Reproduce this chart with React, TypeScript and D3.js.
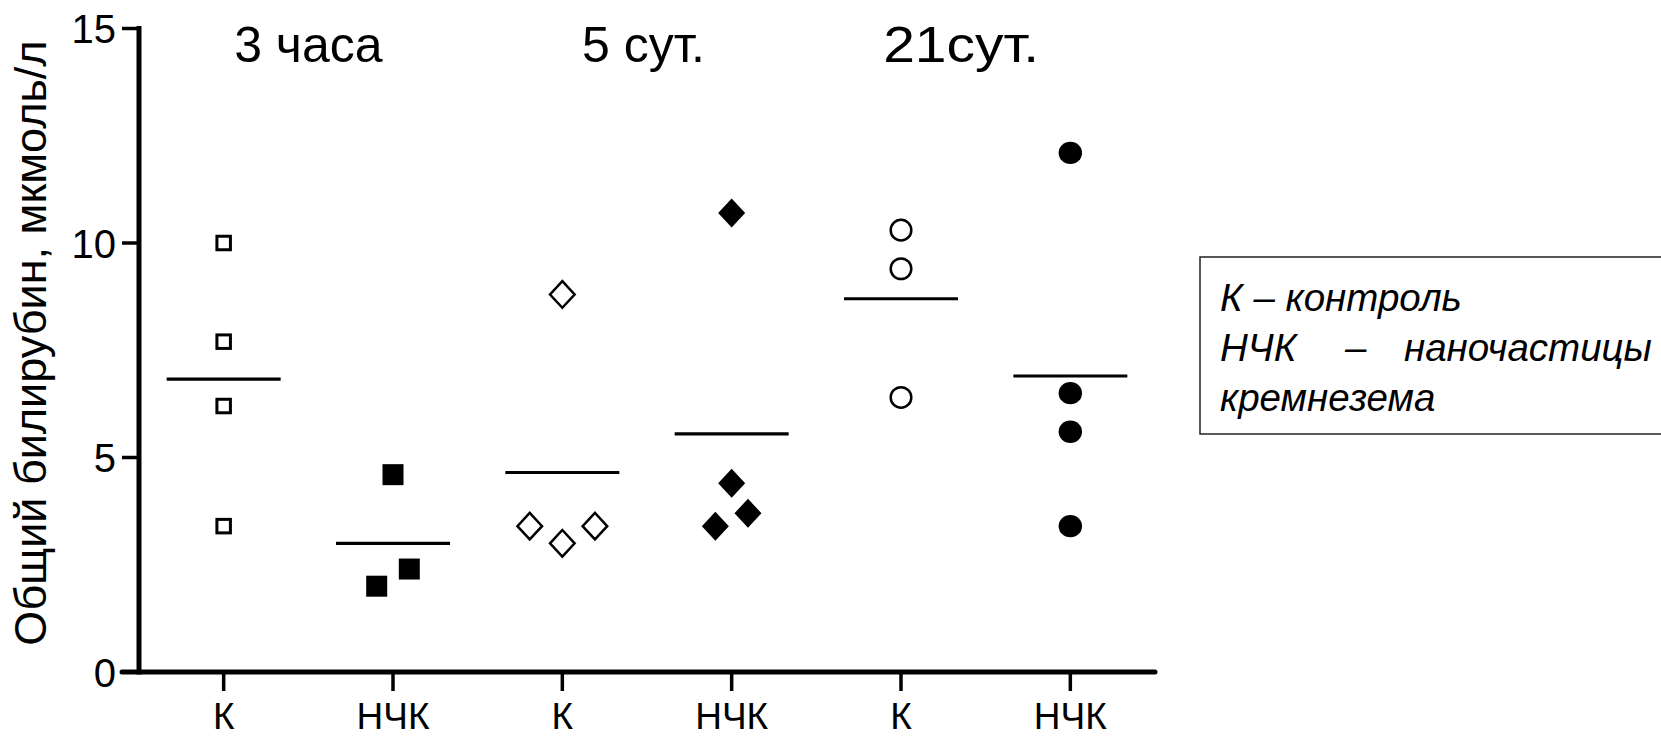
import React from "react";
import * as d3 from "d3";

// ---- data ----
const groupLabels = ["К", "НЧК", "К", "НЧК", "К", "НЧК"];
const periodLabels = ["3 часа", "5 сут.", "21сут."];
const yTicks = [0, 5, 10, 15];

const k3h = [10.0, 7.7, 6.2, 3.4];
const nck3h = [4.6, 2.0, 2.4];
const k5d = [8.8, 3.4, 3.0, 3.4];
const nck5d = [10.7, 4.4, 3.7, 3.4];
const k21d = [10.3, 9.4, 6.4];
const nck21d = [12.1, 6.5, 5.6, 3.4];

// horizontal slot of each point (to avoid overlap), in half-marker units
const k3hSlot = [0, 0, 0, 0];
const nck3hSlot = [0, -1, 1];
const k5dSlot = [0, -2, 0, 2];
const nck5dSlot = [0, 0, 1, -1];
const k21dSlot = [0, 0, 0];
const nck21dSlot = [0, 0, 0, 0];

const seriesValues = [k3h, nck3h, k5d, nck5d, k21d, nck21d];
const seriesSlots = [k3hSlot, nck3hSlot, k5dSlot, nck5dSlot, k21dSlot, nck21dSlot];
const seriesShapes = ["square", "square", "diamond", "diamond", "circle", "circle"];
const seriesFilled = [false, true, false, true, false, true];

const legendLines = ["К – контроль", "кремнезема"];

// ---- layout ----
const W = 1661;
const H = 737;
const axisX = 139;
const axisRight = 1155;
const FONT = "'Liberation Sans', Arial, Helvetica, sans-serif";

export default function App() {
  const x = d3
    .scalePoint<number>()
    .domain(d3.range(groupLabels.length))
    .range([axisX, axisRight])
    .padding(0.5);
  const y = d3.scaleLinear().domain([0, 15]).range([672, 28.5]);
  const slotUnit = 16.3;
  const titleShift = [0, -3.5, -24.5];
  const titleLength: (number | undefined)[] = [undefined, undefined, 156];

  const marker = (shape: string, filled: boolean, cx: number, cy: number, key: string) => {
    const fill = filled ? "#000" : "#fff";
    if (shape === "square") {
      const s = filled ? 21 : 13.5;
      return (
        <rect
          key={key}
          x={cx - s / 2}
          y={cy - s / 2}
          width={s}
          height={s}
          fill={fill}
          stroke="#000"
          strokeWidth={filled ? 0 : 3}
        />
      );
    }
    if (shape === "diamond") {
      const hw = filled ? 13.5 : 12.3;
      const hh = filled ? 14.5 : 13.3;
      const p = d3.path();
      p.moveTo(cx, cy - hh);
      p.lineTo(cx + hw, cy);
      p.lineTo(cx, cy + hh);
      p.lineTo(cx - hw, cy);
      p.closePath();
      return (
        <path key={key} d={p.toString()} fill={fill} stroke="#000" strokeWidth={filled ? 0 : 2.5} strokeLinejoin="miter" />
      );
    }
    return (
      <ellipse
        key={key}
        cx={cx}
        cy={cy}
        rx={filled ? 11.7 : 10.3}
        ry={filled ? 11.2 : 10.3}
        fill={fill}
        stroke="#000"
        strokeWidth={filled ? 0 : 2.5}
      />
    );
  };

  return (
    <svg
      width={W}
      height={H}
      viewBox={`0 0 ${W} ${H}`}
      style={{ position: "absolute", left: 0, top: 0, background: "#fff" }}
      fontFamily={FONT}
    >
      <rect x={0} y={0} width={W} height={H} fill="#fff" />

      {/* y axis */}
      <line x1={axisX} x2={axisX} y1={y(15)} y2={y(0)} stroke="#000" strokeWidth={5} strokeLinecap="square" />
      {yTicks.map((t) => (
        <g key={"yt" + t}>
          <line x1={122} x2={axisX} y1={y(t)} y2={y(t)} stroke="#000" strokeWidth={3.5} />
          <text x={116} y={y(t) + 14.5} fontSize={40} textAnchor="end" fill="#000">
            {t}
          </text>
        </g>
      ))}

      {/* x axis */}
      <line x1={122} x2={axisRight} y1={y(0)} y2={y(0)} stroke="#000" strokeWidth={5} strokeLinecap="round" />
      {groupLabels.map((g, i) => (
        <g key={"xt" + i}>
          <line x1={x(i)!} x2={x(i)!} y1={y(0)} y2={y(0) + 19} stroke="#000" strokeWidth={3.5} />
          <text x={x(i)!} y={729} fontSize={37} textAnchor="middle" fill="#000">
            {g}
          </text>
        </g>
      ))}

      {/* y label */}
      <text transform={`translate(46, 343) rotate(-90)`} fontSize={45} textAnchor="middle" fill="#000">
        Общий билирубин, мкмоль/л
      </text>

      {/* period titles */}
      {periodLabels.map((p, i) => (
        <text
          key={"pt" + i}
          x={(x(2 * i)! + x(2 * i + 1)!) / 2 + titleShift[i]}
          y={61.5}
          fontSize={50}
          textAnchor="middle"
          fill="#000"
          textLength={titleLength[i]}
          lengthAdjust={titleLength[i] ? "spacingAndGlyphs" : undefined}
        >
          {p}
        </text>
      ))}

      {/* mean lines */}
      {seriesValues.map((vals, i) => {
        const m = d3.mean(vals)!;
        return (
          <line
            key={"mean" + i}
            x1={x(i)! - 57}
            x2={x(i)! + 57}
            y1={y(m)}
            y2={y(m)}
            stroke="#000"
            strokeWidth={3.2}
          />
        );
      })}

      {/* points */}
      {seriesValues.map((vals, i) =>
        vals.map((v, j) =>
          marker(seriesShapes[i], seriesFilled[i], x(i)! + seriesSlots[i][j] * slotUnit, y(v), `pt${i}-${j}`)
        )
      )}

      {/* legend */}
      <rect x={1200} y={257} width={520} height={177} fill="#fff" stroke="#222" strokeWidth={1.5} />
      <g fontSize={38.5} fontStyle="italic" fill="#000">
        <text x={1220} y={311}>
          {legendLines[0]}
        </text>
        <text x={1220} y={361}>НЧК</text>
        <text x={1345} y={361}>–</text>
        <text x={1404} y={361}>наночастицы</text>
        <text x={1220} y={411}>
          {legendLines[1]}
        </text>
      </g>
    </svg>
  );
}
